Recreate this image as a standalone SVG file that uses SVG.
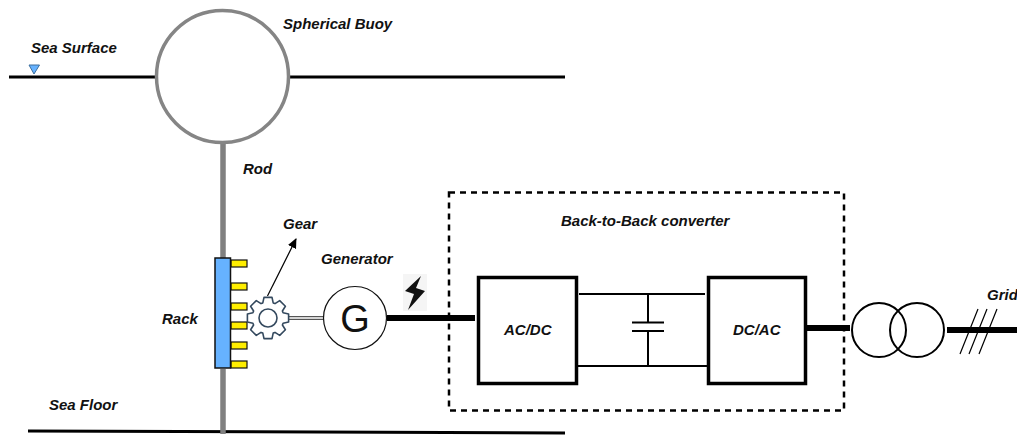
<svg xmlns="http://www.w3.org/2000/svg" width="1017" height="437" viewBox="0 0 1017 437">
<style>
text{font-family:"Liberation Sans",Arial,sans-serif;font-size:15px;font-weight:bold;font-style:italic;fill:#111}
.k{fill:none;stroke:#000}
.tooth{fill:#ffee00;stroke:#111;stroke-width:1.2}
</style>
<defs>
<marker id="ah" viewBox="0 0 10 10" refX="9" refY="5" markerWidth="10" markerHeight="10" markerUnits="userSpaceOnUse" orient="auto"><path d="M0 0.500L10 5L0 9.500Z" fill="#000"/></marker>
</defs>
<rect width="1017" height="437" fill="#fff"/>
<g id="connectors">
<path class="k" stroke-width="3" d="M9 77H157M289 77H565"/>
<path class="k" stroke-width="3" d="M28 431L565 433"/>
<path fill="none" stroke="#808080" stroke-width="5.500" d="M223 144V258M223 369V434"/>
<path class="k" stroke-width="1.200" d="M267.500 296L296 239" marker-end="url(#ah)"/>
<path fill="none" stroke="#555" stroke-width="4" d="M289 318H323"/>
<path fill="none" stroke="#fff" stroke-width="1.600" d="M289 318H323"/>
<path class="k" stroke-width="6" d="M387 318H475"/>
<path class="k" stroke-width="6" d="M807 328H850M947 330H1017"/>
<path class="k" stroke-width="1.200" d="M960 354L978 309M969 354L987 309M979 354L997 309"/>
<path class="k" stroke-width="2" d="M579 294H705M578 366H707M648 294V322M648 331V366"/>
<path class="k" stroke-width="2" d="M632 322.500H664M632 331H664"/>
</g>
<g id="sea-surface"><path d="M29 65H39.500L34 74Z" fill="#66b2ff" stroke="#3d6f9e" stroke-width="1"/><text x="31" y="53">Sea Surface</text></g>
<g id="buoy"><circle cx="222.500" cy="76.500" r="66" fill="#fff" stroke="#858585" stroke-width="3.500"/><text x="283" y="29">Spherical Buoy</text></g>
<g id="rod"><text x="243" y="174">Rod</text></g>
<g id="rack">
<rect class="tooth" x="231" y="260" width="16" height="7"/><rect class="tooth" x="231" y="283" width="16" height="7"/><rect class="tooth" x="231" y="303" width="16" height="7"/><rect class="tooth" x="231" y="322" width="16" height="7"/><rect class="tooth" x="231" y="342" width="16" height="7"/><rect class="tooth" x="231" y="361" width="16" height="7"/>
<rect x="215" y="258" width="15.500" height="110" fill="#66b2ff" stroke="#111" stroke-width="1.500"/>
<text x="162" y="324">Rack</text></g>
<g id="gear">
<path transform="translate(268 318)" d="M-5.200 -15.100L-4 -20.600L4 -20.600L5.200 -15.100L7 -14.400L11.700 -17.400L17.400 -11.700L14.400 -7L15.100 -5.200L20.600 -4L20.600 4L15.100 5.200L14.400 7L17.400 11.700L11.700 17.400L7 14.400L5.200 15.100L4 20.600L-4 20.600L-5.200 15.100L-7 14.400L-11.700 17.400L-17.400 11.700L-14.400 7L-15.100 5.200L-20.600 4L-20.600 -4L-15.100 -5.200L-14.400 -7L-17.400 -11.700L-11.700 -17.400L-7 -14.400Z" fill="#fff" stroke="#34495e" stroke-width="1.600" stroke-linejoin="round"/>
<circle cx="268" cy="318" r="9" fill="#fff" stroke="#34495e" stroke-width="1.600"/>
<text x="283" y="229">Gear</text></g>
<g id="generator"><circle cx="355" cy="318" r="31.500" fill="#fff" stroke="#111" stroke-width="1.200"/><text x="355" y="332" text-anchor="middle" style="font-size:38px;font-weight:normal;font-style:normal">G</text><text x="321" y="264">Generator</text></g>
<g id="bolt"><rect x="403" y="274" width="24" height="37" fill="#f5f5f5"/><path d="M421 276L405 291L414 294L408 310L425 291L416 288Z" fill="#111"/></g>
<g id="converter">
<rect x="449" y="192.500" width="395" height="218" fill="none" stroke="#000" stroke-width="2.500" stroke-dasharray="6 5"/>
<text x="561" y="226">Back-to-Back converter</text>
<rect x="478.500" y="277.500" width="98" height="106" fill="#fff" stroke="#000" stroke-width="3.500"/><text x="504" y="335">AC/DC</text>
<rect x="708.500" y="277.500" width="97" height="106" fill="#fff" stroke="#000" stroke-width="3.500"/><text x="733" y="335">DC/AC</text></g>
<g id="transformer"><circle cx="879" cy="330" r="27" fill="none" stroke="#000" stroke-width="2"/><circle cx="917" cy="330" r="27" fill="none" stroke="#000" stroke-width="2"/></g>
<g id="grid"><text x="987" y="300">Grid</text></g>
<g id="sea-floor"><text x="49" y="410">Sea Floor</text></g>
</svg>
